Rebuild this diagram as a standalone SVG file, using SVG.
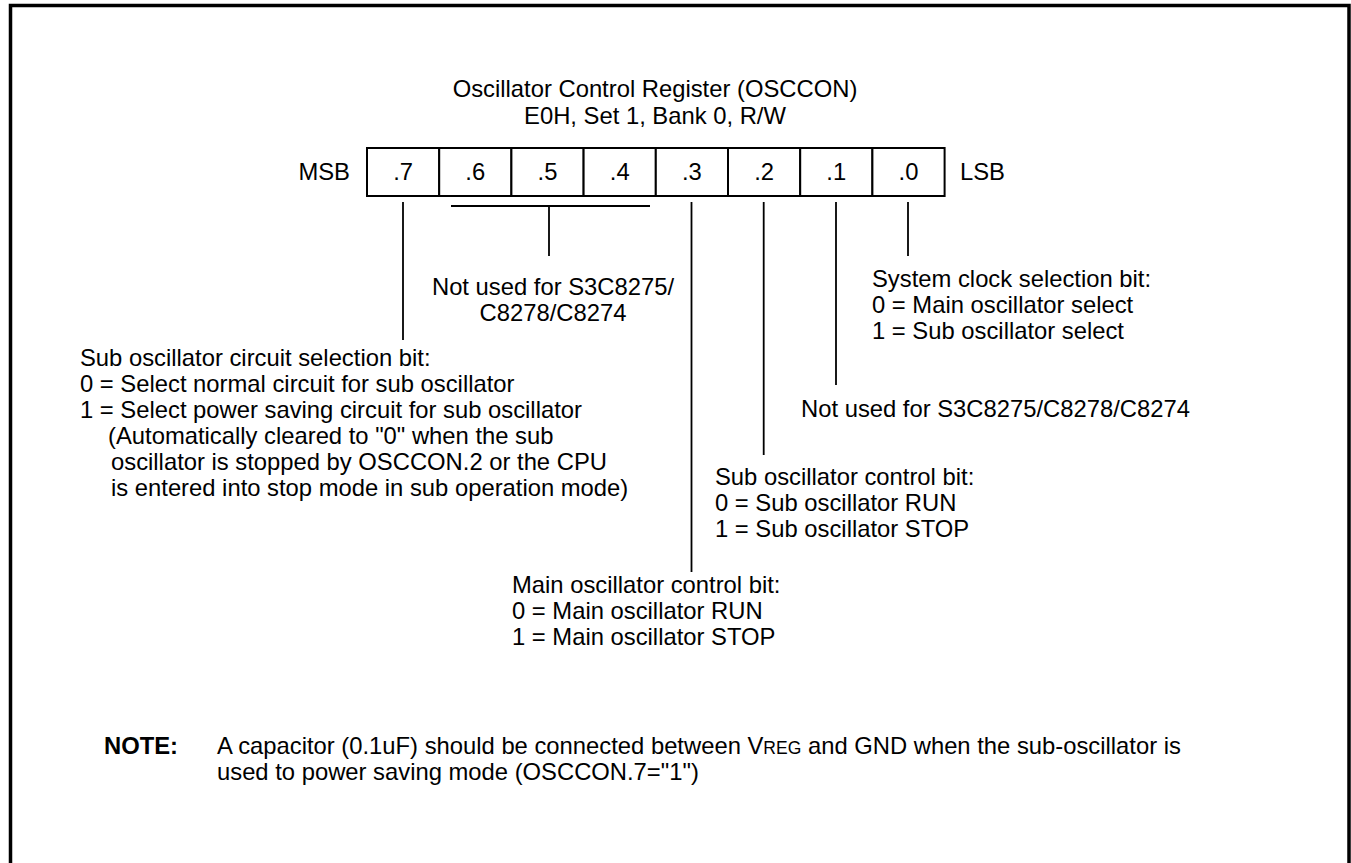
<svg xmlns="http://www.w3.org/2000/svg" width="1351" height="863" viewBox="0 0 1351 863">
<style>
text{font-family:"Liberation Sans",Arial,sans-serif;font-size:23.8px;fill:#000}
.c{text-anchor:middle}
.b{font-weight:bold}
.cell{fill:#fff;stroke:#000;stroke-width:2}
.ln{stroke:#000;stroke-width:1.8;fill:none}
</style>
<rect width="1351" height="863" fill="#fff"/>
<path d="M10.5,863 V5.5 H1349 V863" fill="none" stroke="#000" stroke-width="3.5"/>
<g id="title">
<text class="c" x="655" y="97">Oscillator Control Register (OSCCON)</text>
<text class="c" x="655" y="124">E0H, Set 1, Bank 0, R/W</text>
</g>
<g id="register">
<text x="350" y="180" text-anchor="end">MSB</text>
<rect class="cell" x="367" y="148" width="72.2" height="48"/>
<rect class="cell" x="439.2" y="148" width="72.2" height="48"/>
<rect class="cell" x="511.4" y="148" width="72.2" height="48"/>
<rect class="cell" x="583.6" y="148" width="72.2" height="48"/>
<rect class="cell" x="655.8" y="148" width="72.2" height="48"/>
<rect class="cell" x="728" y="148" width="72.2" height="48"/>
<rect class="cell" x="800.2" y="148" width="72.2" height="48"/>
<rect class="cell" x="872.4" y="148" width="72.2" height="48"/>
<text class="c" x="403.1" y="180">.7</text>
<text class="c" x="475.3" y="180">.6</text>
<text class="c" x="547.5" y="180">.5</text>
<text class="c" x="619.7" y="180">.4</text>
<text class="c" x="691.9" y="180">.3</text>
<text class="c" x="764.1" y="180">.2</text>
<text class="c" x="836.3" y="180">.1</text>
<text class="c" x="908.5" y="180">.0</text>
<text x="960" y="180">LSB</text>
</g>
<g id="connectors">
<line class="ln" x1="403" y1="202" x2="403" y2="340"/>
<line class="ln" x1="451" y1="206" x2="650" y2="206"/>
<line class="ln" x1="549" y1="206" x2="549" y2="256"/>
<line class="ln" x1="691.5" y1="202" x2="691.5" y2="572"/>
<line class="ln" x1="763.7" y1="202" x2="763.7" y2="455"/>
<line class="ln" x1="836" y1="202" x2="836" y2="385"/>
<line class="ln" x1="908" y1="202" x2="908" y2="256"/>
</g>
<g id="bits654">
<text class="c" x="553" y="295">Not used for S3C8275/</text>
<text class="c" x="553" y="321">C8278/C8274</text>
</g>
<g id="bit0">
<text x="872" y="287">System clock selection bit:</text>
<text x="872" y="313">0 = Main oscillator select</text>
<text x="872" y="339">1 = Sub oscillator select</text>
</g>
<g id="bit7">
<text x="80" y="366">Sub oscillator circuit selection bit:</text>
<text x="80" y="392">0 = Select normal circuit for sub oscillator</text>
<text x="80" y="418">1 = Select power saving circuit for sub oscillator</text>
<text x="108" y="444">(Automatically cleared to "0" when the sub</text>
<text x="111" y="470">oscillator is stopped by OSCCON.2 or the CPU</text>
<text x="111" y="496">is entered into stop mode in sub operation mode)</text>
</g>
<g id="bit1">
<text x="801" y="417">Not used for S3C8275/C8278/C8274</text>
</g>
<g id="bit2">
<text x="715" y="485">Sub oscillator control bit:</text>
<text x="715" y="511">0 = Sub oscillator RUN</text>
<text x="715" y="537">1 = Sub oscillator STOP</text>
</g>
<g id="bit3">
<text x="512" y="593">Main oscillator control bit:</text>
<text x="512" y="619">0 = Main oscillator RUN</text>
<text x="512" y="645">1 = Main oscillator STOP</text>
</g>
<g id="note">
<text class="b" x="104" y="754">NOTE:</text>
<text x="217" y="754">A capacitor (0.1uF) should be connected between V<tspan font-size="17.5">REG</tspan> and GND when the sub-oscillator is</text>
<text x="217" y="780">used to power saving mode (OSCCON.7="1")</text>
</g>
</svg>
